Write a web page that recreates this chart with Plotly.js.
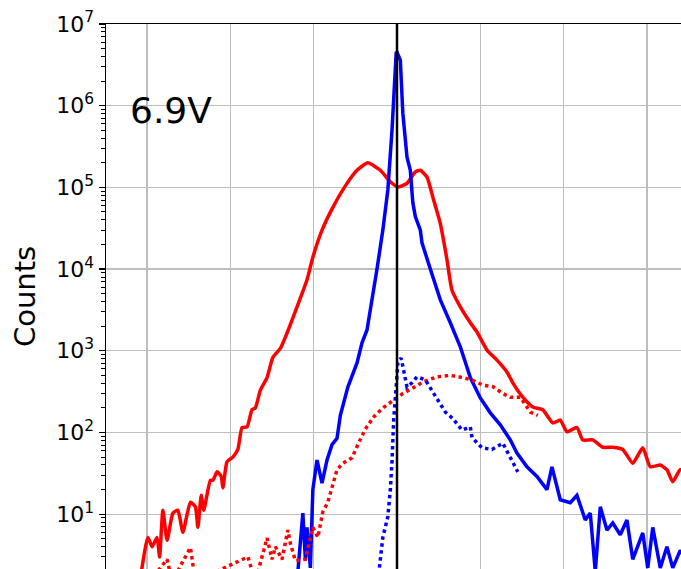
<!DOCTYPE html>
<html>
<head>
<meta charset="utf-8">
<script src="https://cdn.plot.ly/plotly-3.0.1.min.js"></script>
<style>html,body{margin:0;padding:0;background:#fff;}#chart{width:681px;height:569px;}</style>
</head>
<body>
<div id="chart"></div>
<script>
// ---- data (x in arbitrary units, grid spacing = 1; values are counts) ----
const xRedSolid = [-3.10,-2.99,-2.94,-2.88,-2.85,-2.81,-2.76,-2.69,-2.63,-2.57,-2.48,-2.42,-2.39,-2.35,-2.32,-2.24,-2.21,-2.16,-2.11,-2.09,-2.04,-1.97,-1.91,-1.86,-1.80,-1.74,-1.70,-1.64,-1.56,-1.49,-1.40,-1.32,-1.20,-1.08,-1.01,-0.90,-0.77,-0.60,-0.48,-0.35,-0.20,-0.08,0.01,0.12,0.22,0.28,0.36,0.43,0.52,0.60,0.66,0.76,0.88,0.96,1.08,1.20,1.32,1.39,1.51,1.63,1.75,1.87,1.96,2.04,2.16,2.23,2.35,2.47,2.59,2.71,2.83,2.95,3.04,3.16,3.24,3.31,3.40,3.50];
const redSolid = [1.2,5.2,4.0,5.2,3.0,11.2,4.8,10.3,11.2,6.0,14,12.3,6.9,17,11.2,26,26,33,29,21,44,50,62,115,117,190,200,330,470,830,1070,1650,3450,7400,14000,30000,57000,112000,162000,200000,162000,117000,101000,112000,155000,162000,134000,76000,36000,13000,5500,3450,2200,1700,1020,770,550,405,270,205,190,131,142,102,115,81,81,66,66,62,42,65,38,40,35,25,35,33];

const xBlueSolid = [-1.20,-1.13,-1.10,-1.08,-1.04,-1.01,-0.96,-0.90,-0.84,-0.78,-0.72,-0.68,-0.59,-0.48,-0.42,-0.36,-0.24,-0.17,-0.11,-0.06,-0.01,0.00,0.04,0.07,0.12,0.16,0.19,0.22,0.28,0.30,0.40,0.52,0.64,0.76,0.88,1.00,1.12,1.24,1.36,1.44,1.56,1.68,1.80,1.86,1.96,2.08,2.16,2.26,2.32,2.38,2.44,2.52,2.59,2.68,2.76,2.83,2.95,3.01,3.07,3.16,3.24,3.31,3.40,3.50];
const blueSolid = [1.5,10.3,2.8,6.9,2.2,20,46,24,46,71,85,162,360,710,1250,1800,10000,30000,93000,500000,4400000,4500000,3600000,810000,235000,162000,65000,44000,30000,21000,10000,4200,2200,1120,470,265,174,124,81,56,38,29,20,38,15,13.8,17,8.5,10.3,2.0,12.3,6.4,7.8,5.6,8.5,2.8,5.9,2.2,6.9,2.2,4.0,2.2,3.6,2.5];

const xRedDotted = [-2.97,-2.76,-2.70,-2.48,-2.42,-1.79,-1.70,-1.56,-1.50,-1.46,-1.38,-1.31,-1.28,-1.22,-1.10,-1.01,-0.95,-0.89,-0.83,-0.77,-0.72,-0.65,-0.54,-0.47,-0.38,-0.28,-0.17,-0.05,0.07,0.19,0.31,0.48,0.64,0.79,0.90,1.03,1.15,1.27,1.36,1.48,1.60,1.69];
const redDotted = [1.5,2.8,1.5,3.9,1.5,3.0,1.5,5.1,2.8,4.0,2.8,6.4,4.4,2.7,2.8,6.9,5.2,10.7,14,24,35,42,49,71,110,155,200,245,300,350,415,480,500,470,440,380,365,300,270,270,178,162];

const xBlueDotted = [-0.23,-0.20,-0.17,-0.11,-0.08,-0.06,-0.04,-0.01,0.01,0.05,0.07,0.12,0.18,0.24,0.34,0.40,0.46,0.58,0.67,0.78,0.88,0.90,1.02,1.14,1.27,1.36,1.39,1.45];
const blueDotted = [1.5,2.8,5.2,9.3,20,44,142,360,710,815,630,360,405,480,440,350,270,178,148,107,117,87,65,62,74,50,42,33];

const yTickVals = [1e1,1e2,1e3,1e4,1e5,1e6,1e7];
const yTickText = ['10<sup>1</sup>','10<sup>2</sup>','10<sup>3</sup>','10<sup>4</sup>','10<sup>5</sup>','10<sup>6</sup>','10<sup>7</sup>'];
const xGridVals = [-3,-2,-1,0,1,2,3];
const labelText = '6.9V';
const yTitle = 'Counts';

const font = "DejaVu Sans, sans-serif";

const traces = [
  {x: xRedSolid, y: redSolid, type: 'scatter', mode: 'lines', line: {color: '#ff0000', width: 3.5, shape: 'spline', smoothing: 0.5}, hoverinfo: 'skip'},
  {x: xBlueSolid, y: blueSolid, type: 'scatter', mode: 'lines', line: {color: '#0000ff', width: 3.5}, hoverinfo: 'skip'},
  {x: xRedDotted, y: redDotted, type: 'scatter', mode: 'lines', line: {color: '#ff0000', width: 3.5, dash: '3.5px,3.5px'}, hoverinfo: 'skip'},
  {x: xBlueDotted, y: blueDotted, type: 'scatter', mode: 'lines', line: {color: '#0000ff', width: 3.5, dash: '3.5px,3.5px'}, hoverinfo: 'skip'}
];

const layout = {
  width: 681, height: 569,
  margin: {l: 106, r: 0, t: 24, b: 0, pad: 0},
  paper_bgcolor: '#ffffff', plot_bgcolor: '#ffffff',
  showlegend: false,
  font: {family: font, color: '#000'},
  xaxis: {
    side: 'top', range: [-3.493, 3.409], tickmode: 'array', tickvals: xGridVals,
    showticklabels: false, ticks: '', showgrid: true, gridcolor: '#bdbdbd', gridwidth: 1.3,
    zeroline: false, showline: true, linecolor: '#000', linewidth: 1.5, mirror: false
  },
  yaxis: {
    type: 'log', range: [0.329, 7], tickmode: 'array', tickvals: yTickVals, ticktext: yTickText,
    ticks: 'outside', ticklen: 6, tickwidth: 1.3, tickcolor: '#000',
    tickfont: {family: font, size: 22, color: '#000'},
    showgrid: true, gridcolor: '#bdbdbd', gridwidth: 1.3, zeroline: false,
    showline: true, linecolor: '#000', linewidth: 1.5,
    minor: {dtick: 'D1', ticks: 'outside', ticklen: 3.5, tickwidth: 1, tickcolor: '#000', showgrid: false},
    title: {text: yTitle, font: {family: font, size: 29, color: '#000'}, standoff: 12}
  },
  shapes: [
    {type: 'line', xref: 'x', yref: 'paper', x0: 0, x1: 0, y0: 0, y1: 1, line: {color: '#000', width: 2.5}, layer: 'above'}
  ],
  annotations: [
    {text: labelText, xref: 'x', yref: 'y', x: -3.23, y: 5.947, xanchor: 'left', yanchor: 'middle', showarrow: false,
     font: {family: font, size: 36, color: '#000'}}
  ]
};

Plotly.newPlot('chart', traces, layout, {staticPlot: true, displayModeBar: false});
</script>
</body>
</html>
